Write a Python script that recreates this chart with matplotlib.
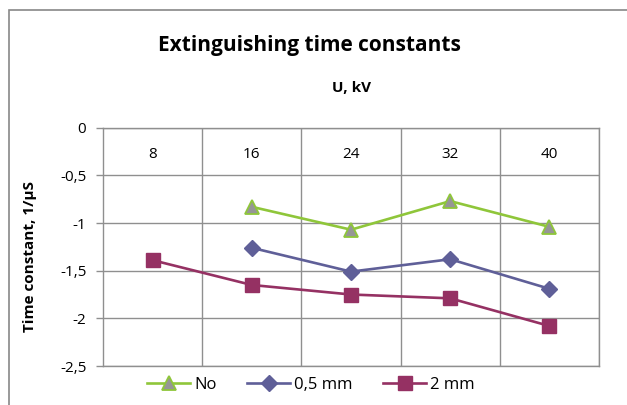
import numpy as np
import matplotlib
matplotlib.use("Agg")
import matplotlib.pyplot as plt
from matplotlib.patches import Rectangle
from matplotlib.ticker import FuncFormatter

# -----------------------------
# Data
# -----------------------------
voltages = ["8", "16", "24", "32", "40"]
series_no = [np.nan, -0.83, -1.07, -0.77, -1.04]
series_05mm = [np.nan, -1.26, -1.51, -1.38, -1.69]
series_2mm = [-1.39, -1.65, -1.75, -1.79, -2.08]
legend_labels = ["No", "0,5 mm", "2 mm"]
y_ticks = [0, -0.5, -1, -1.5, -2, -2.5]

plt.rcParams["font.family"] = ["Open Sans", "DejaVu Sans"]
plt.rcParams["axes.unicode_minus"] = False

grid_col = "#8f8f8f"

fig = plt.figure(figsize=(6.27, 4.05), dpi=100)
ax = fig.add_axes([103 / 627, 1 - 366 / 405, 496 / 627, 238.3 / 405])

x = np.arange(len(voltages))

ax.plot(x, series_no, color="#8fc63a", lw=1.9, marker="^", ms=10,
        markerfacecolor="#969696", markeredgecolor="#8fc63a", markeredgewidth=1.3,
        label=legend_labels[0])
ax.plot(x, series_05mm, color="#5f5f98", lw=1.9, marker="D", ms=8,
        markerfacecolor="#5f5f98", markeredgecolor="#5f5f98",
        label=legend_labels[1])
ax.plot(x, series_2mm, color="#953163", lw=1.9, marker="s", ms=10,
        markerfacecolor="#953163", markeredgecolor="#953163",
        label=legend_labels[2])

ax.set_xlim(-0.5, len(voltages) - 0.5)
ax.set_ylim(-2.5, 0)

# horizontal grid
ax.set_yticks(y_ticks)
ax.yaxis.set_major_formatter(FuncFormatter(lambda v, p: f"{v:g}".replace(".", ",")))
ax.grid(axis="y", color=grid_col, lw=1)
ax.tick_params(axis="y", length=5, width=1, color=grid_col, pad=7, labelsize=11)

# vertical lines between categories
ax.set_xticks(x + 0.5, minor=True)
ax.set_xticks([])
ax.grid(axis="x", which="minor", color=grid_col, lw=1)
ax.tick_params(axis="x", which="both", length=0)

# category labels just below the 0 line
for xi, lab in zip(x, voltages):
    ax.text(xi, -0.286, lab, ha="center", va="center", fontsize=11)

for s in ax.spines.values():
    s.set_color(grid_col)
    s.set_linewidth(1)
ax.set_axisbelow(True)

fig.text(309 / 627, 1 - 45 / 405, "Extinguishing time constants",
         ha="center", va="center", fontsize=15, fontweight="bold")
fig.text(351 / 627, 1 - 88 / 405, "U, kV", ha="center", va="center",
         fontsize=11, fontweight="bold")
fig.text(30 / 627, 1 - 257 / 405, "Time constant, 1/\u00b5S", ha="center",
         va="center", rotation=90, fontsize=11, fontweight="bold")

fig.legend(loc="center", bbox_to_anchor=(311 / 627, 1 - 385 / 405), ncol=3,
           frameon=False, fontsize=12, handlelength=2.6, columnspacing=1.8,
           handletextpad=0.25)

# chart border (cropped on the right and bottom)
fig.patches.append(Rectangle((9 / 627, -0.1), 1.5, 1.1 - 10 / 405, fill=False,
                             edgecolor="#888888", lw=1.2,
                             transform=fig.transFigure))

fig.savefig("out.png", dpi=100)
